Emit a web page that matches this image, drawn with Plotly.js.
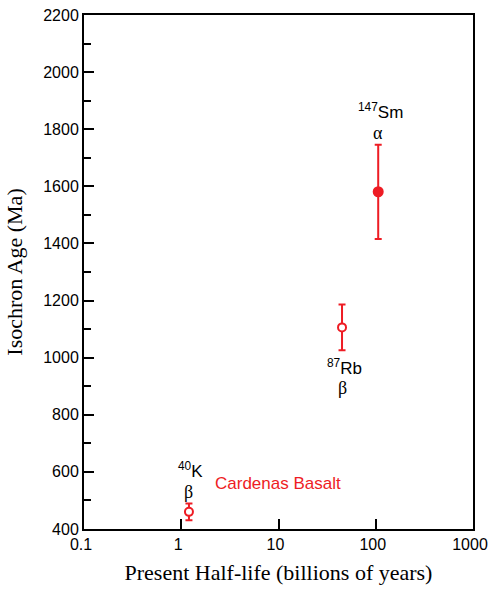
<!DOCTYPE html>
<html><head><meta charset="utf-8">
<script src="https://cdn.plot.ly/plotly-3.0.1.min.js"></script>
<style>html,body{margin:0;padding:0;background:#fff}</style>
</head><body>
<div id="chart" style="width:488px;height:589px"></div>
<script>
var isotopes = ['40K', '87Rb', '147Sm'];
var halfLife = [1.2, 45, 106];
var ageMa = [460, 1106, 1581];
var ageErr = [29, 80, 165];
var decayMode = ['β', 'β', 'α'];
var filled = [false, false, true];
var xTickVals = [0.1, 1, 10, 100, 1000];
var xTickText = ['0.1', '1', '10', '100', '1000'];
var sampleName = 'Cardenas Basalt';

var red = '#ee1c24';
var traces = [0,1,2].map(function(i){
  return {
    x: [halfLife[i]], y: [ageMa[i]], type: 'scatter', mode: 'markers',
    error_y: {type: 'data', array: [ageErr[i]], visible: true, color: red, thickness: 2, width: 3.5},
    marker: {size: filled[i] ? 9 : 8, color: filled[i] ? red : '#fff', line: {color: red, width: 2}},
    hoverinfo: 'skip', showlegend: false
  };
});

function sup(s){ var m = s.match(/^(\d+)(.*)$/); return '<sup>' + m[1] + '</sup>' + m[2]; }
var labelAbove = [true, false, true];
var annotations = [];
for (var i = 0; i < 3; i++) {
  var isAbove = labelAbove[i];
  var yBase = isAbove ? ageMa[i] + ageErr[i] : ageMa[i] - ageErr[i];
  annotations.push({x: Math.log10(halfLife[i]), y: yBase, xref: 'x', yref: 'y', text: sup(isotopes[i]),
    showarrow: false, yanchor: 'middle', yshift: isAbove ? 34 : -17, xshift: 2,
    font: {family: 'Liberation Sans, Arial', size: 17, color: '#000'}});
  annotations.push({x: Math.log10(halfLife[i]), y: yBase, xref: 'x', yref: 'y', text: decayMode[i],
    showarrow: false, yanchor: 'middle', yshift: isAbove ? 12 : -38,
    font: {family: 'Liberation Serif, Times New Roman', size: 18, color: '#000'}});
}
annotations.push({x: Math.log10(2.12), y: 561, xref: 'x', yref: 'y', text: sampleName,
  showarrow: false, xanchor: 'left', yanchor: 'middle',
  font: {family: 'Liberation Sans, Arial', size: 17, color: red}});

var layout = {
  width: 488, height: 589,
  margin: {l: 84, r: 15, t: 15, b: 60},
  paper_bgcolor: '#fff', plot_bgcolor: '#fff',
  xaxis: {type: 'log', range: [-1, 3.00001], tickvals: xTickVals, ticktext: xTickText,
    ticklabeloverflow: 'allow', ticklabelshift: -3,
    ticks: 'inside', ticklen: 10, tickwidth: 2, tickcolor: '#000',
    showline: true, linewidth: 2, linecolor: '#000', mirror: true, showgrid: false, zeroline: false,
    tickfont: {family: 'Liberation Sans, Arial', size: 16, color: '#000'},
    title: {text: 'Present Half-life (billions of years)', standoff: 12,
      font: {family: 'Liberation Serif, Times New Roman', size: 22, color: '#000'}}},
  yaxis: {range: [400, 2200], dtick: 200, tick0: 400,
    ticks: 'inside', ticklen: 10, tickwidth: 2, tickcolor: '#000',
    minor: {dtick: 100, ticks: 'inside', ticklen: 7, tickwidth: 2, tickcolor: '#000', showgrid: false},
    showline: true, linewidth: 2, linecolor: '#000', mirror: true, showgrid: false, zeroline: false,
    tickfont: {family: 'Liberation Sans, Arial', size: 16, color: '#000'},
    title: {text: 'Isochron Age (Ma)', standoff: 15,
      font: {family: 'Liberation Serif, Times New Roman', size: 22, color: '#000'}}},
  annotations: annotations
};
Plotly.newPlot('chart', traces, layout, {displayModeBar: false, staticPlot: true});
</script>
</body></html>
